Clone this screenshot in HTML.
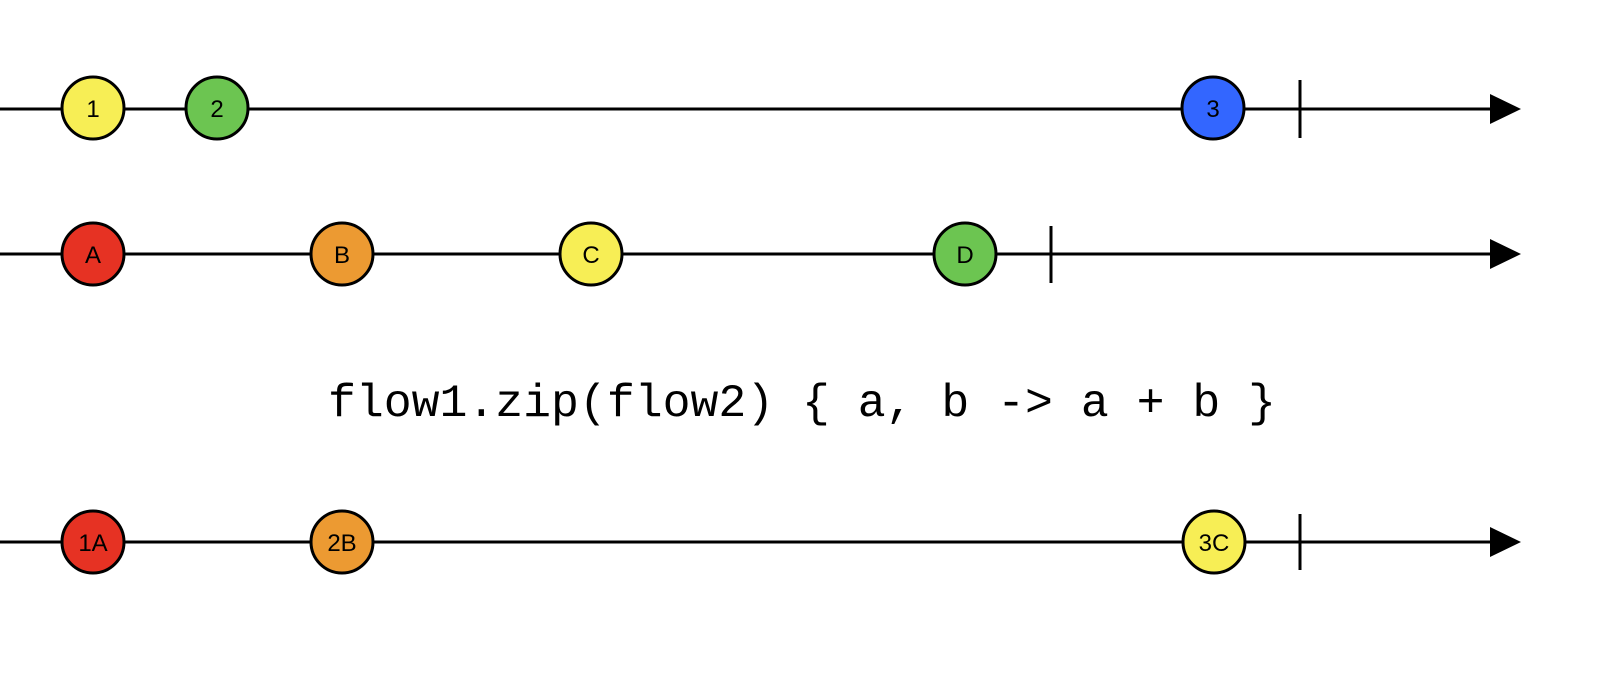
<!DOCTYPE html>
<html><head><style>html,body{margin:0;padding:0;background:#fff}</style></head><body>
<svg width="1612" height="680" xmlns="http://www.w3.org/2000/svg" font-family="Liberation Sans, sans-serif">
<g stroke="#000" stroke-width="3">
<line x1="0" y1="109" x2="1495" y2="109"/>
<line x1="0" y1="254" x2="1495" y2="254"/>
<line x1="0" y1="542" x2="1495" y2="542"/>
<line x1="1300" y1="80" x2="1300" y2="138"/>
<line x1="1051" y1="226" x2="1051" y2="283"/>
<line x1="1300" y1="514" x2="1300" y2="570"/>
</g>
<polygon points="1490,94 1521,109 1490,124" fill="#000"/>
<polygon points="1490,239 1521,254 1490,269" fill="#000"/>
<polygon points="1490,527 1521,542 1490,557" fill="#000"/>
<g stroke="#000" stroke-width="3">
<circle cx="93" cy="108" r="31" fill="#f7ee55"/>
<circle cx="217" cy="108" r="31" fill="#6cc551"/>
<circle cx="1213" cy="108" r="31" fill="#3366ff"/>
<circle cx="93" cy="254" r="31" fill="#e63223"/>
<circle cx="342" cy="254" r="31" fill="#ec9a32"/>
<circle cx="591" cy="254" r="31" fill="#f7ee55"/>
<circle cx="965" cy="254" r="31" fill="#6cc551"/>
<circle cx="93" cy="542" r="31" fill="#e63223"/>
<circle cx="342" cy="542" r="31" fill="#ec9a32"/>
<circle cx="1214" cy="542" r="31" fill="#f7ee55"/>
</g>
<g font-size="24" text-anchor="middle" fill="#000">
<text x="93" y="117">1</text>
<text x="217" y="117">2</text>
<text x="1213" y="117">3</text>
<text x="93" y="263">A</text>
<text x="342" y="263">B</text>
<text x="591" y="263">C</text>
<text x="965" y="263">D</text>
<text x="93" y="551">1A</text>
<text x="342" y="551">2B</text>
<text x="1214" y="551">3C</text>
</g>
<text x="802" y="416" text-anchor="middle" font-family="Liberation Mono, monospace" font-size="46" textLength="948" lengthAdjust="spacingAndGlyphs">flow1.zip(flow2) { a, b -&gt; a + b }</text>
</svg>
</body></html>
